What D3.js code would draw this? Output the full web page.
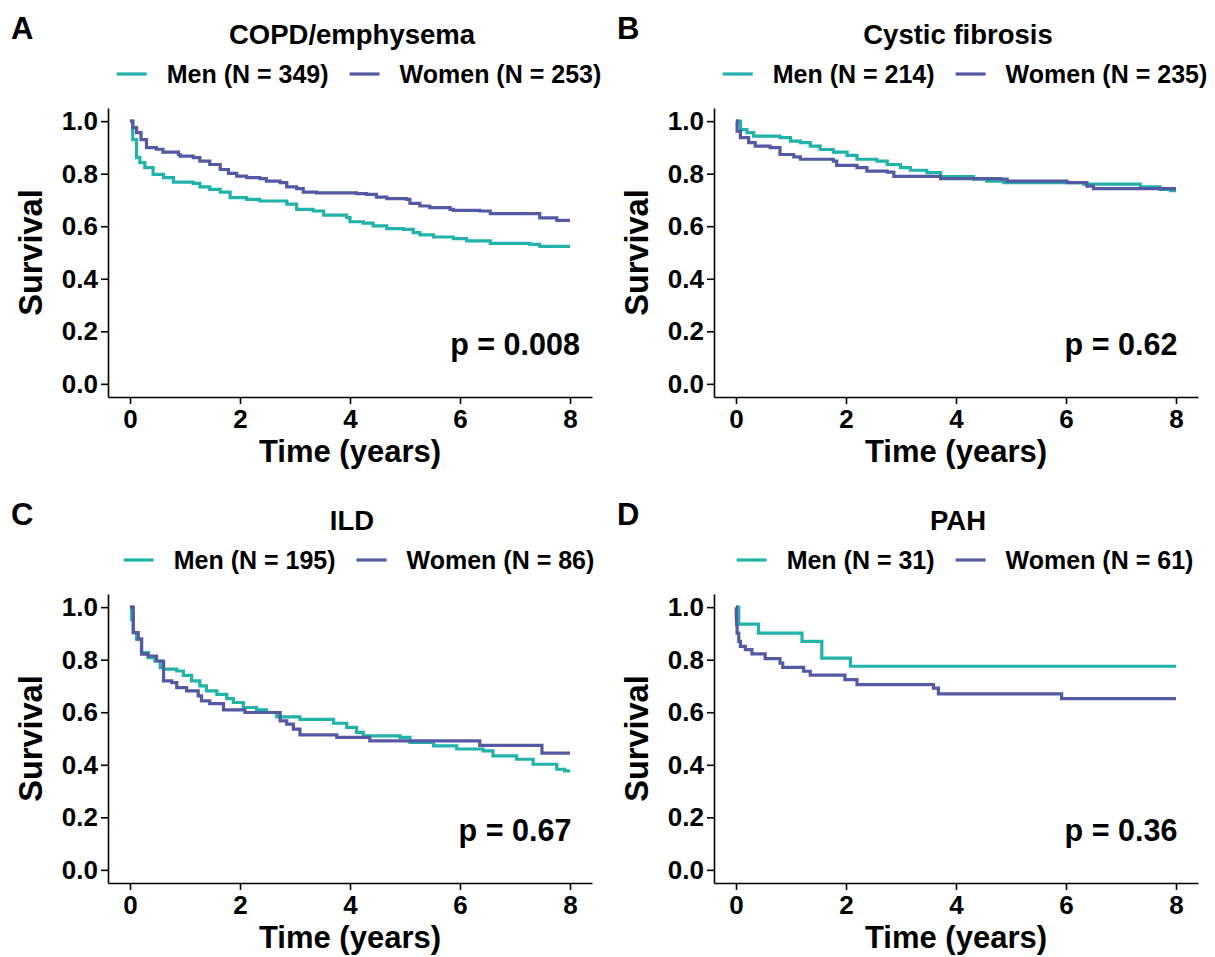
<!DOCTYPE html>
<html>
<head>
<meta charset="utf-8">
<script src="https://d3js.org/d3.v7.min.js"></script>
<style>
    body {margin: 0; background: #fff;}
    text {font-family: "Liberation Sans", Arial, sans-serif; font-weight: bold; fill: #000;}
</style>
</head>
<body>
<svg id="chart" width="1215" height="957"></svg>
<script>

    // survival curves: [time in years, survival]
    let copdMen = [[0,1],[0.05,0.93],[0.12,0.861],[0.18,0.842],[0.27,0.823],[0.42,0.797],[0.61,0.785],[0.79,0.768],
        [1.15,0.763],[1.27,0.75],[1.45,0.74],[1.64,0.73],[1.82,0.709],[2.12,0.702],[2.36,0.696],[2.85,0.684],
        [3.03,0.664],[3.33,0.658],[3.52,0.642],[3.94,0.633],[4.0,0.617],[4.24,0.612],[4.42,0.601],[4.67,0.591],
        [4.97,0.588],[5.15,0.576],[5.27,0.567],[5.52,0.559],[5.88,0.553],[6.12,0.544],[6.55,0.535],[7.27,0.531],
        [7.45,0.523],[8,0.523]];
    let copdWomen = [[0,1],[0.05,0.975],[0.12,0.956],[0.2,0.93],[0.3,0.899],[0.48,0.893],[0.6,0.882],[0.88,0.873],
        [0.91,0.867],[1.15,0.861],[1.27,0.848],[1.45,0.835],[1.64,0.816],[1.79,0.801],[1.94,0.791],[2.12,0.785],
        [2.36,0.781],[2.48,0.772],[2.73,0.766],[2.85,0.75],[3.03,0.743],[3.15,0.73],[3.39,0.727],[4.12,0.724],
        [4.3,0.721],[4.48,0.711],[4.67,0.705],[5.03,0.702],[5.09,0.687],[5.27,0.677],[5.45,0.671],[5.82,0.664],
        [5.88,0.66],[6.36,0.658],[6.55,0.648],[7.45,0.632],[7.76,0.622],[8,0.622]];

    let cfMen = [[0,1],[0.08,0.968],[0.2,0.956],[0.32,0.943],[0.8,0.937],[0.99,0.924],[1.17,0.918],[1.35,0.905],
        [1.53,0.892],[1.77,0.882],[2.02,0.87],[2.2,0.855],[2.56,0.848],[2.75,0.835],[2.99,0.823],[3.17,0.813],
        [3.47,0.804],[3.72,0.789],[4.32,0.779],[4.56,0.772],[4.87,0.766],[6.32,0.76],[7.35,0.75],[7.71,0.74],
        [7.9,0.735],[8,0.735]];
    let cfWomen = [[0,1],[0.02,0.962],[0.08,0.937],[0.23,0.918],[0.35,0.905],[0.62,0.899],[0.8,0.873],[1.05,0.864],
        [1.17,0.855],[1.77,0.848],[1.83,0.832],[2.2,0.823],[2.38,0.81],[2.75,0.806],[2.87,0.79],[3.72,0.781],
        [4.81,0.779],[4.93,0.772],[6.02,0.766],[6.38,0.753],[6.5,0.743],[8,0.743]];

    let ildMen = [[0,1],[0.03,0.953],[0.06,0.903],[0.12,0.878],[0.21,0.827],[0.33,0.808],[0.45,0.795],[0.55,0.77],
        [0.61,0.764],[0.85,0.757],[0.97,0.74],[1.12,0.719],[1.27,0.7],[1.39,0.681],[1.58,0.668],[1.76,0.652],
        [1.88,0.637],[2.06,0.618],[2.3,0.609],[2.48,0.599],[2.67,0.582],[3.09,0.573],[3.7,0.558],[3.94,0.542],
        [4.12,0.523],[4.24,0.51],[4.91,0.504],[5.09,0.485],[5.52,0.472],[5.94,0.46],[6.42,0.453],[6.6,0.434],
        [7.03,0.421],[7.33,0.402],[7.76,0.383],[7.9,0.377],[8,0.377]];
    let ildWomen = [[0,1],[0.06,0.903],[0.15,0.878],[0.21,0.821],[0.33,0.814],[0.48,0.795],[0.61,0.719],[0.76,0.713],
        [0.85,0.694],[1.03,0.681],[1.24,0.662],[1.3,0.643],[1.45,0.633],[1.7,0.609],[2.09,0.599],[2.73,0.567],
        [2.85,0.555],[2.97,0.536],[3.09,0.514],[3.76,0.504],[4.36,0.491],[6.36,0.474],[7.49,0.444],[8,0.444]];

    let pahMen = [[0,1],[0.05,0.935],[0.41,0.901],[1.2,0.87],[1.56,0.806],[2.08,0.775],[8,0.775]];
    let pahWomen = [[0,1],[0.005,0.965],[0.01,0.933],[0.02,0.901],[0.05,0.87],[0.08,0.851],[0.17,0.838],[0.29,0.822],
        [0.53,0.804],[0.8,0.787],[0.85,0.771],[1.23,0.756],[1.35,0.741],[1.98,0.724],[2.2,0.705],[3.59,0.692],
        [3.68,0.67],[5.92,0.652],[8,0.652]];

    let letters = ["A", "B", "C", "D"];
    let titles = ["COPD/emphysema", "Cystic fibrosis", "ILD", "PAH"];
    let menN = [349, 214, 195, 31];
    let womenN = [253, 235, 86, 61];
    let pValues = ["p = 0.008", "p = 0.62", "p = 0.67", "p = 0.36"];
    let menCurves = [copdMen, cfMen, ildMen, pahMen];
    let womenCurves = [copdWomen, cfWomen, ildWomen, pahWomen];

    let xTicks = [0, 2, 4, 6, 8];
    let yTicks = [0, 0.2, 0.4, 0.6, 0.8, 1.0];

    let menColor = "#21b3a9",
        womenColor = "#5459a4";

    let panelW = 606, panelH = 486;
    let plot = {left: 108, right: 592, top: 108, bottom: 397};

    let svg = d3.select("#chart");

    let x = d3.scaleLinear().domain([-0.4, 8.4]).range([plot.left, plot.right]);
    let y = d3.scaleLinear().domain([-0.05, 1.05]).range([plot.bottom, plot.top]);

    let line = d3.line()
        .curve(d3.curveStepAfter)
        .x(function(d) { return x(d[0]); })
        .y(function(d) { return y(d[1]); });

    function drawPanel(i) {
        let g = svg.append("g")
            .attr("transform", "translate(" + (i % 2) * panelW + "," + Math.floor(i / 2) * panelH + ")");

        let cx = (plot.left + plot.right) / 2;

        g.append("text")
            .attr("x", 11).attr("y", 39)
            .style("font-size", "31px")
            .text(letters[i]);

        g.append("text")
            .attr("x", cx + 2).attr("y", 44)
            .attr("text-anchor", "middle")
            .style("font-size", "27.5px")
            .text(titles[i]);

        // legend
        let leg = g.append("g").attr("transform", "translate(0,74)");
        let items = [
            {label: "Men (N = " + menN[i] + ")", color: menColor},
            {label: "Women (N = " + womenN[i] + ")", color: womenColor}
        ];
        let pos = 0;
        items.forEach(function(it, k) {
            if (k > 0) pos += 21;
            leg.append("line")
                .attr("x1", pos).attr("x2", pos + 30)
                .attr("stroke", it.color).attr("stroke-width", 3.2);
            pos += 50;
            let t = leg.append("text")
                .attr("x", pos).attr("y", 0)
                .attr("dy", "0.36em")
                .style("font-size", "25px")
                .text(it.label);
            pos += t.node().getComputedTextLength();
        });
        leg.attr("transform", "translate(" + (cx + 9 - pos / 2) + ",74)");

        // axes
        let yAxis = g.append("g")
            .attr("transform", "translate(" + plot.left + ",0)")
            .call(d3.axisLeft(y).tickValues(yTicks).tickFormat(d3.format(".1f"))
                .tickSize(7).tickPadding(3).tickSizeOuter(0));
        let xAxis = g.append("g")
            .attr("transform", "translate(0," + plot.bottom + ")")
            .call(d3.axisBottom(x).tickValues(xTicks).tickFormat(d3.format("d"))
                .tickSize(7).tickPadding(6).tickSizeOuter(0));

        [xAxis, yAxis].forEach(function(a) {
            a.attr("font-family", null).attr("font-size", null);
            a.select(".domain").attr("stroke-width", 1.6);
            a.selectAll(".tick line").attr("stroke-width", 1.6);
            a.selectAll("text").style("font-size", "26px");
        });

        g.append("text")
            .attr("transform", "translate(30," + (plot.top + plot.bottom) / 2 + ") rotate(-90)")
            .attr("text-anchor", "middle")
            .attr("dy", "0.36em")
            .style("font-size", "32.5px")
            .text("Survival");

        g.append("text")
            .attr("x", cx).attr("y", 462)
            .attr("text-anchor", "middle")
            .style("font-size", "31px")
            .text("Time (years)");

        // curves
        g.append("path")
            .datum(menCurves[i])
            .attr("d", line)
            .attr("fill", "none")
            .attr("stroke", menColor)
            .attr("stroke-width", 3.2);
        g.append("path")
            .datum(womenCurves[i])
            .attr("d", line)
            .attr("fill", "none")
            .attr("stroke", womenColor)
            .attr("stroke-width", 3.2);

        g.append("text")
            .attr("x", x(7)).attr("y", y(0.15))
            .attr("text-anchor", "middle")
            .attr("dy", "0.36em")
            .style("font-size", "30.5px")
            .text(pValues[i]);
    }

    for (let i = 0; i < 4; i++) drawPanel(i);

</script>
</body>
</html>
